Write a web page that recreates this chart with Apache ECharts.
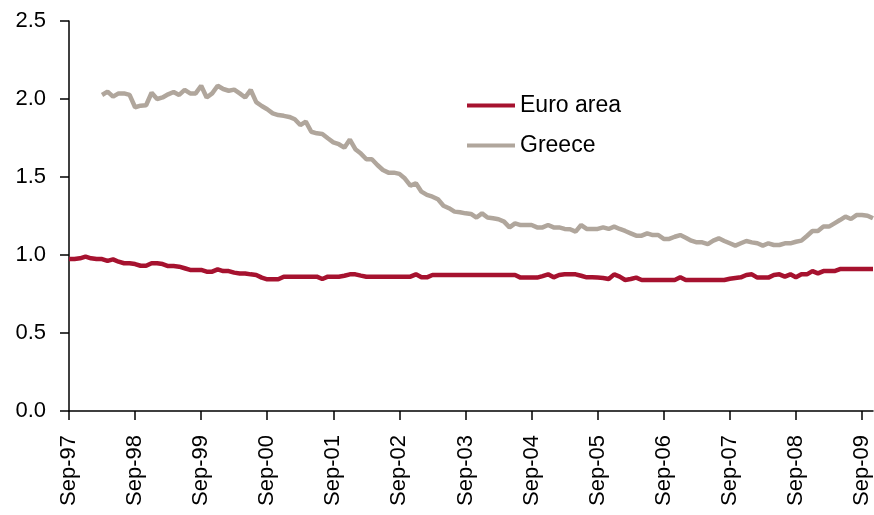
<!DOCTYPE html>
<html>
<head>
<meta charset="utf-8">
<script src="https://cdn.jsdelivr.net/npm/echarts@6/dist/echarts.min.js"></script>
<style>
  html, body { margin: 0; padding: 0; background: #fff; }
  #chart { width: 874px; height: 515px; }
</style>
</head>
<body>
<div id="chart"></div>
<script>
// monthly, Sep-97 .. Nov-09
const monthNames = ["Jan", "Feb", "Mar", "Apr", "May", "Jun", "Jul", "Aug", "Sep", "Oct", "Nov", "Dec"];
const startYear = 1997;
const startMonth = 8; // Sep
const monthCount = 147;

const euroArea = [
  0.974, 0.974, 0.979, 0.99, 0.979, 0.974, 0.974, 0.962, 0.972, 0.957,
  0.947, 0.947, 0.942, 0.931, 0.931, 0.947, 0.947, 0.942, 0.929, 0.929,
  0.925, 0.915, 0.904, 0.904, 0.904, 0.893, 0.893, 0.908, 0.897, 0.897,
  0.887, 0.882, 0.882, 0.876, 0.872, 0.855, 0.844, 0.844, 0.844, 0.861,
  0.861, 0.861, 0.861, 0.861, 0.861, 0.861, 0.846, 0.861, 0.861, 0.861,
  0.867, 0.876, 0.876, 0.868, 0.861, 0.861, 0.861, 0.861, 0.861, 0.861,
  0.861, 0.861, 0.861, 0.876, 0.857, 0.857, 0.872, 0.872, 0.872, 0.872,
  0.872, 0.872, 0.872, 0.872, 0.872, 0.872, 0.872, 0.872, 0.872, 0.872,
  0.872, 0.872, 0.855, 0.855, 0.855, 0.855, 0.865, 0.876, 0.857, 0.872,
  0.876, 0.876, 0.876, 0.867, 0.857, 0.857, 0.855, 0.853, 0.846, 0.876,
  0.861, 0.84, 0.846, 0.855, 0.84, 0.84, 0.84, 0.84, 0.84, 0.84,
  0.84, 0.857, 0.84, 0.84, 0.84, 0.84, 0.84, 0.84, 0.84, 0.84,
  0.848, 0.853, 0.857, 0.872, 0.876, 0.855, 0.855, 0.855, 0.872, 0.876,
  0.861, 0.876, 0.857, 0.876, 0.876, 0.897, 0.882, 0.897, 0.897, 0.897,
  0.91, 0.91, 0.91, 0.91, 0.91, 0.91, 0.91
];

const greece = [
  null, null, null, null, null, null,
  2.026, 2.047, 2.015, 2.036, 2.036, 2.026, 1.947, 1.957, 1.96, 2.04,
  2.0, 2.01, 2.03, 2.045, 2.026, 2.058, 2.036, 2.036, 2.085, 2.01,
  2.036, 2.085, 2.064, 2.053, 2.06, 2.036, 2.01, 2.058, 1.98, 1.955,
  1.934, 1.908, 1.897, 1.892, 1.885, 1.87, 1.833, 1.855, 1.79, 1.78,
  1.776, 1.748, 1.722, 1.71, 1.688, 1.74, 1.678, 1.65, 1.614, 1.614,
  1.577, 1.545, 1.528, 1.528, 1.52, 1.49, 1.445, 1.46, 1.406, 1.385,
  1.374, 1.357, 1.316, 1.3, 1.278, 1.274, 1.267, 1.263, 1.24, 1.267,
  1.24, 1.235, 1.229, 1.214, 1.177, 1.203, 1.192, 1.192, 1.192, 1.177,
  1.177, 1.192, 1.177, 1.177, 1.167, 1.165, 1.15, 1.192, 1.167, 1.167,
  1.167, 1.177, 1.167, 1.182, 1.167, 1.154, 1.139, 1.124, 1.124, 1.139,
  1.128, 1.128, 1.103, 1.103, 1.117, 1.128, 1.111, 1.092, 1.081, 1.081,
  1.07, 1.092, 1.107, 1.09, 1.075, 1.06, 1.075, 1.09, 1.081, 1.075,
  1.06, 1.075, 1.064, 1.064, 1.075, 1.075, 1.085, 1.092, 1.122, 1.154,
  1.154, 1.182, 1.182, 1.203, 1.224, 1.246, 1.231, 1.256, 1.256, 1.252,
  1.235
];

const categories = [];
for (let i = 0; i < monthCount; i++) {
  const m = (startMonth + i) % 12;
  const y = startYear + Math.floor((startMonth + i) / 12);
  categories.push(monthNames[m] + "-" + String(y % 100).padStart(2, "0"));
}

const font = "'Liberation Sans', Arial, sans-serif";
const everyYear = (idx) => idx % 12 === 0;

const chart = echarts.init(document.getElementById("chart"), null, { renderer: "canvas" });
chart.setOption({
  backgroundColor: "#ffffff",
  animation: false,
  grid: { left: 69, right: 1, top: 21, bottom: 104, containLabel: false },
  legend: {
    data: ["Euro area", "Greece"],
    orient: "vertical",
    left: 467,
    top: 94,
    padding: 0,
    icon: "rect",
    itemWidth: 48,
    itemHeight: 4,
    itemGap: 17,
    textStyle: { fontFamily: font, fontSize: 23, color: "#000" }
  },
  xAxis: {
    type: "category",
    data: categories,
    boundaryGap: false,
    axisLine: { lineStyle: { color: "#000", width: 1.5 } },
    axisTick: { interval: everyYear, length: 9, lineStyle: { color: "#000", width: 1.5 } },
    axisLabel: {
      interval: everyYear,
      rotate: 90,
      margin: 24,
      color: "#000",
      fontFamily: font,
      fontSize: 22
    },
    splitLine: { show: false }
  },
  yAxis: {
    type: "value",
    min: 0,
    max: 2.5,
    interval: 0.5,
    axisLine: { show: true, lineStyle: { color: "#000", width: 1.5 } },
    axisTick: { show: true, length: 9, lineStyle: { color: "#000", width: 1.5 } },
    axisLabel: {
      margin: 23,
      color: "#000",
      fontFamily: font,
      fontSize: 22,
      formatter: (v) => v.toFixed(1)
    },
    splitLine: { show: false }
  },
  series: [
    {
      name: "Euro area",
      type: "line",
      data: euroArea,
      symbol: "none",
      lineStyle: { color: "#a6122f", width: 4.5 },
      itemStyle: { color: "#a6122f" }
    },
    {
      name: "Greece",
      type: "line",
      data: greece,
      symbol: "none",
      lineStyle: { color: "#b0a69c", width: 4.5 },
      itemStyle: { color: "#b0a69c" }
    }
  ]
});
</script>
</body>
</html>
